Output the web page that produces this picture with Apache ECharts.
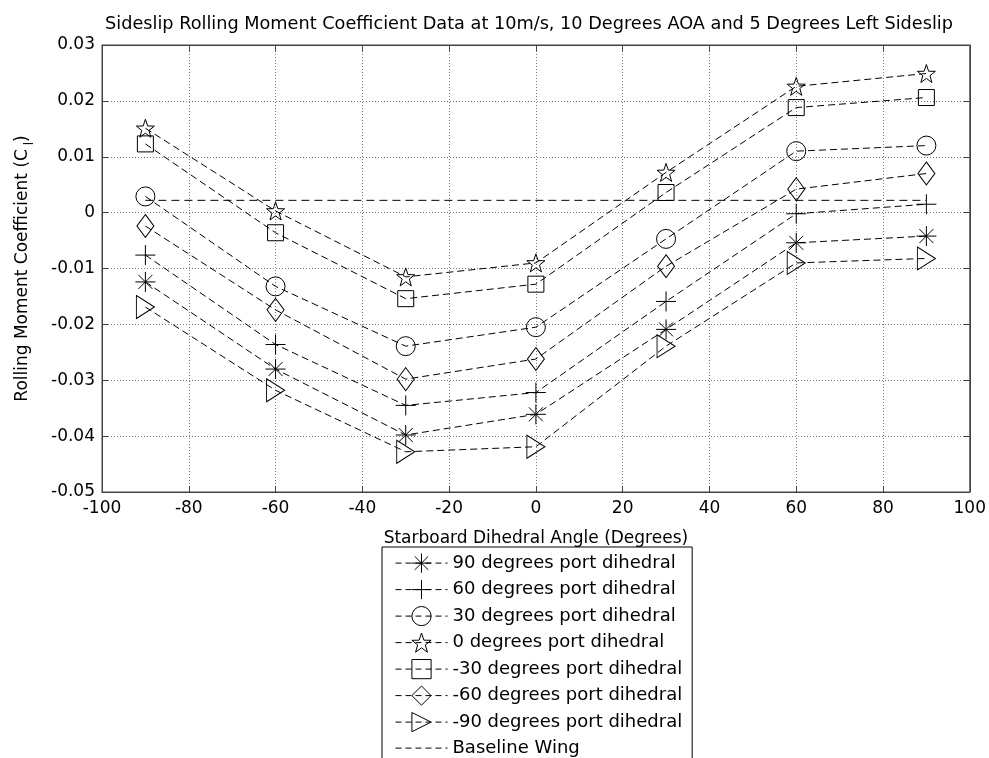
<!DOCTYPE html>
<html>
<head>
<meta charset="utf-8">
<script src="https://cdn.jsdelivr.net/npm/echarts@6/dist/echarts.min.js"></script>
<style>
  html, body { margin: 0; padding: 0; background: #fff; }
  #chart { width: 989px; height: 758px; }
</style>
</head>
<body>
<div id="chart"></div>
<script>
// starboard dihedral angles (x)
var starboard = [-90, -60, -30, 0, 30, 60, 90]

// rolling moment coefficient, one list per port dihedral setting
var port90  = [-0.0124, -0.0280, -0.0398, -0.0361, -0.0209, -0.0054, -0.0042]
var port60  = [-0.0076, -0.0236, -0.0345, -0.0322, -0.0159, -0.0002,  0.0015]
var port30  = [ 0.0029, -0.0132, -0.0239, -0.0205, -0.0047,  0.0110,  0.0120]
var port0   = [ 0.0151,  0.0003, -0.0115, -0.0090,  0.0072,  0.0226,  0.0249]
var portM30 = [ 0.0123, -0.0036, -0.0154, -0.0128,  0.0036,  0.0188,  0.0206]
var portM60 = [-0.0024, -0.0174, -0.0298, -0.0262, -0.0096,  0.0042,  0.0070]
var portM90 = [-0.0169, -0.0318, -0.0428, -0.0419, -0.0239, -0.0090, -0.0082]
var baselineX = [-90, 90]
var baseline  = [0.0022, 0.0022]

var legendNames = [
    '90 degrees port dihedral',
    '60 degrees port dihedral',
    '30 degrees port dihedral',
    '0 degrees port dihedral',
    '-30 degrees port dihedral',
    '-60 degrees port dihedral',
    '-90 degrees port dihedral',
    'Baseline Wing'
]

var xTicks = {min: -100, max: 100, interval: 20}
var yTicks = {min: -0.05, max: 0.03, interval: 0.01}

var FONT = 'DejaVu Sans'
var FS = 17

// matlab style markers (outline only)
var ASTERISK = 'path://M5,0 L5,10 M0,5 L10,5 M1.5,1.5 L8.5,8.5 M1.5,8.5 L8.5,1.5'
var PLUS = 'path://M5,0 L5,10 M0,5 L10,5'
var STAR = 'path://M5,0 L6.18,3.38 L9.76,3.45 L6.9,5.62 L7.94,9.05 L5,7 L2.06,9.05 L3.1,5.62 L0.24,3.45 L3.82,3.38 Z'
var TRI_RIGHT = 'path://M0,0 L10,5 L0,10 Z'

function pairs(xs, ys) {
    return xs.map(function (x, i) { return [x, ys[i]] })
}

function makeSeries(name, ys, symbol, size) {
    return {
        name: name,
        type: 'line',
        data: pairs(starboard, ys),
        symbol: symbol,
        symbolSize: size,
        lineStyle: {color: '#000', width: 1, type: [7, 4]},
        itemStyle: {color: 'transparent', borderColor: '#000', borderWidth: 1},
        emphasis: {disabled: true}
    }
}

var chart = echarts.init(document.getElementById('chart'))

var axisLineStyle = {color: '#444', width: 1}

var option = {
    animation: false,
    backgroundColor: '#fff',
    textStyle: {fontFamily: FONT, color: '#000'},
    title: {
        text: 'Sideslip Rolling Moment Coefficient Data at 10m/s, 10 Degrees AOA and 5 Degrees Left Sideslip',
        left: 529,
        top: 15,
        padding: 0,
        textAlign: 'center',
        textStyle: {fontFamily: FONT, fontSize: 17.7, fontWeight: 'normal', color: '#000'}
    },
    grid: {
        left: 102, right: 17, top: 45, bottom: 266,
        show: true, borderColor: '#444', borderWidth: 1
    },
    legend: {
        data: legendNames,
        orient: 'vertical',
        left: 382,
        top: 547,
        height: 240,
        itemWidth: 52,
        itemHeight: 24,
        itemGap: 6.3,
        padding: [6, 10, 5, 13],
        borderColor: '#000',
        borderWidth: 1,
        backgroundColor: '#fff',
        selectedMode: false,
        itemStyle: {borderWidth: 1},
        lineStyle: {width: 1, type: [6, 4]},
        textStyle: {fontFamily: FONT, fontSize: 18, color: '#000'}
    },
    xAxis: [{
        type: 'value',
        min: xTicks.min, max: xTicks.max, interval: xTicks.interval,
        name: 'Starboard Dihedral Angle (Degrees)',
        nameLocation: 'middle',
        nameGap: 38,
        nameTextStyle: {fontFamily: FONT, fontSize: FS, color: '#000'},
        axisLine: {onZero: false, lineStyle: axisLineStyle},
        axisTick: {inside: true, length: 6, lineStyle: axisLineStyle},
        axisLabel: {fontFamily: FONT, fontSize: FS, color: '#000', margin: 8},
        splitLine: {show: true, lineStyle: {color: '#777', type: [1, 2]}}
    }, {
        type: 'value', position: 'top',
        min: xTicks.min, max: xTicks.max, interval: xTicks.interval,
        axisLine: {onZero: false, lineStyle: axisLineStyle},
        axisTick: {inside: true, length: 6, lineStyle: axisLineStyle},
        axisLabel: {show: false},
        splitLine: {show: false}
    }],
    yAxis: [{
        type: 'value',
        min: yTicks.min, max: yTicks.max, interval: yTicks.interval,
        name: '{a|Rolling Moment Coefficient (C}{s| l}{a|)}',
        nameLocation: 'middle',
        nameGap: 66,
        nameTextStyle: {
            fontFamily: FONT, fontSize: FS, color: '#000',
            rich: {
                a: {fontFamily: FONT, fontSize: FS, lineHeight: 26, color: '#000'},
                s: {fontFamily: FONT, fontSize: 12, lineHeight: 10, verticalAlign: 'bottom', color: '#000'}
            }
        },
        axisLine: {onZero: false, lineStyle: axisLineStyle},
        axisTick: {inside: true, length: 6, lineStyle: axisLineStyle},
        axisLabel: {
            fontFamily: FONT, fontSize: FS, color: '#000', margin: 7,
            formatter: function (v) {
                var s = v.toFixed(2)
                return (s === '0.00' || s === '-0.00') ? '0' : s
            }
        },
        splitLine: {show: true, lineStyle: {color: '#777', type: [1, 2]}}
    }, {
        type: 'value', position: 'right',
        min: yTicks.min, max: yTicks.max, interval: yTicks.interval,
        axisLine: {show: true, onZero: false, lineStyle: axisLineStyle},
        axisTick: {show: true, inside: true, length: 6, lineStyle: axisLineStyle},
        axisLabel: {show: false},
        splitLine: {show: false}
    }],
    series: [
        makeSeries(legendNames[0], port90, ASTERISK, 20),
        makeSeries(legendNames[1], port60, PLUS, 20),
        makeSeries(legendNames[2], port30, 'circle', 19),
        makeSeries(legendNames[3], port0, STAR, 18),
        makeSeries(legendNames[4], portM30, 'rect', 16),
        makeSeries(legendNames[5], portM60, 'diamond', [17, 23]),
        makeSeries(legendNames[6], portM90, TRI_RIGHT, [18, 23]),
        {
            name: legendNames[7],
            type: 'line',
            data: pairs(baselineX, baseline),
            symbol: 'circle',
            showSymbol: false,
            lineStyle: {color: '#000', width: 1, type: [8, 5]},
            itemStyle: {color: 'transparent', borderWidth: 0},
            emphasis: {disabled: true}
        }
    ]
}

chart.setOption(option)
</script>
</body>
</html>
